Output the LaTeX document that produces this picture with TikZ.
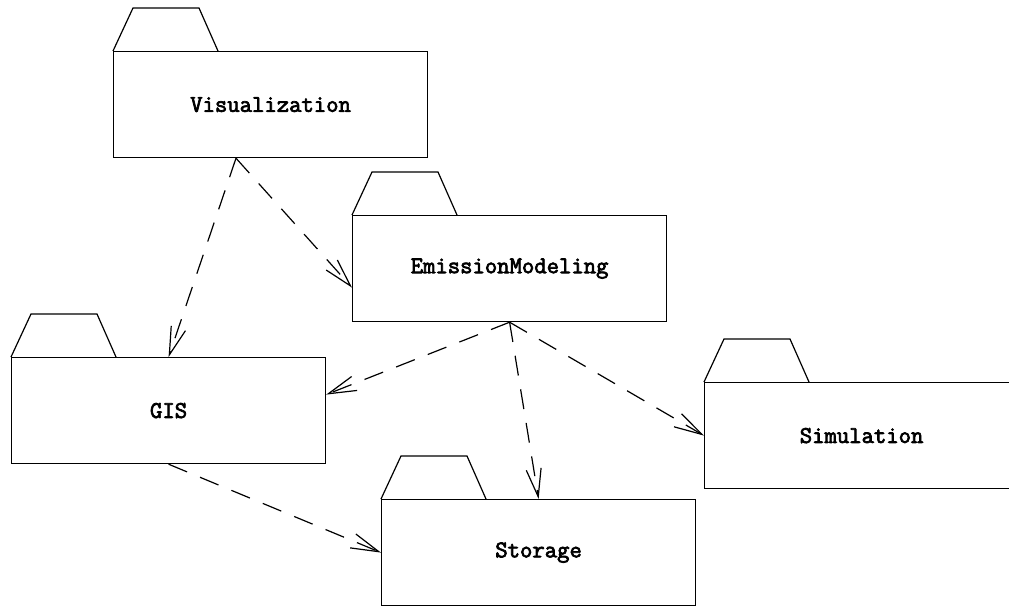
\documentclass[tikz,border=0pt]{standalone}
\usepackage{fontspec}
\newfontfamily\pkgfont[AutoFakeBold=3]{Latin Modern Mono}
\usetikzlibrary{arrows.meta,calc}
\tikzset{
  pkgbox/.style={draw, line width=1.2pt, rectangle, anchor=north west,
    minimum width=314pt, minimum height=106pt, inner sep=0pt,
    font=\pkgfont\bfseries\fontsize{24}{28}\selectfont},
  pkgtab/.style={draw, line width=1.2pt, line join=miter},
  dep/.style={draw, line width=1.2pt, dash pattern=on 20pt off 14pt,
    -{Straight Barb[length=28pt,width=15pt,line width=1.2pt]}}
}
\newcommand{\umlpkg}[4]{%
  \node[pkgbox] (#1) at (#2,#3) {#4};
  \draw[pkgtab] (#1.north west) -- ++(20,-43) -- ++(66,0) -- ++(19,43);
}
\begin{document}
\begin{tikzpicture}[x=1pt,y=-1pt]
\useasboundingbox (0,0) rectangle (1009,607);
\clip (0,0) rectangle (1009,607);
\umlpkg{vis}{113}{51}{Visualization}
\umlpkg{em}{352}{215}{EmissionModeling}
\umlpkg{gis}{11}{357}{GIS}
\umlpkg{sto}{381}{499}{Storage}
\umlpkg{sim}{704}{382}{Simulation}
\coordinate (visout) at ($(vis.south west)+(123,0)$);
\coordinate (emin) at ($(em.west)+(0,19)$);
\coordinate (gisin) at ($(gis.east)+(0,-16)$);
\draw[dep] (visout) -- (gis.north);
\draw[dep] (visout) -- (emin);
\draw[dep] (em.south) -- (gisin);
\draw[dep] (em.south) -- (sto.north);
\draw[dep] (em.south) -- (sim.west);
\draw[dep] (gis.south) -- (sto.west);
\end{tikzpicture}
\end{document}
